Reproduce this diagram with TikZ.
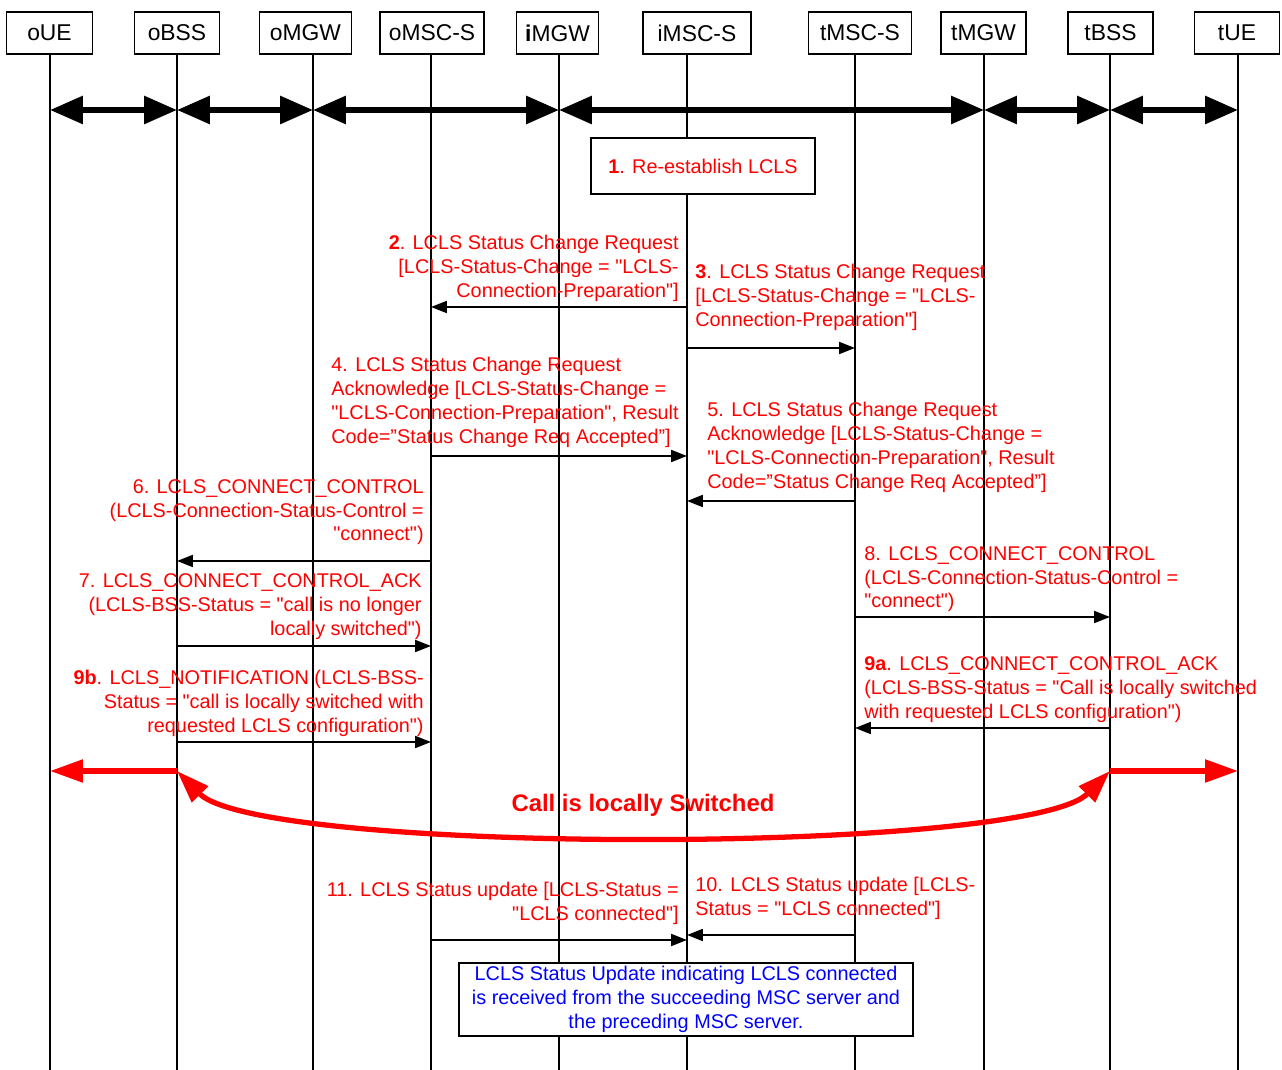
\documentclass[tikz,border=0pt]{standalone}
\usepackage{fontspec}
\setmainfont{Liberation Sans}[Ligatures=TeXOff]
\usetikzlibrary{arrows.meta}

\begin{document}
\begin{tikzpicture}[
    x=0.02cm, y=-0.02cm,
    every node/.style={font=\fontsize{11.3}{13.6}\selectfont, inner sep=0pt},
    entity/.style={draw, line width=0.8pt, minimum height=0.84cm, font=\fontsize{13}{15}\selectfont},
    life/.style={line width=0.8pt},
    link/.style={line width=3.4pt, {Triangle[length=18.7pt,width=15.3pt]}-{Triangle[length=18.7pt,width=15.3pt]}},
    msg/.style={line width=1pt, -{Triangle[length=9pt,width=6.8pt]}},
    lbl/.style={text=red, align=left, anchor=north west},
    rlbl/.style={text=red, align=right, anchor=north east},
    note/.style={draw, fill=white, line width=0.8pt, align=center},
    local/.style={red, line width=3pt, -{Triangle[length=18.7pt,width=12.5pt]}}
]
    \useasboundingbox (0,0) rectangle (1282,1070);

    \foreach \n/\t/\bx/\lx/\w in {oUE/oUE/49.5/50/86, oBSS/oBSS/177/177/85,
        oMGW/oMGW/305.5/313/92, oMSC/oMSC-S/432/431/104, iMGW/\textbf{i}MGW/557.5/559/82,
        iMSC/iMSC-S/697/687/108, tMSC/tMSC-S/860/855/103, tMGW/tMGW/983.5/984/85,
        tBSS/tBSS/1110.5/1110/85, tUE/tUE/1237/1238/85} {
        \node[entity, minimum width=\w*0.02cm] (\n) at (\bx,33) {\t};
        \coordinate (\n-l) at (\lx,1070);
        \draw[life] (\n.south -| \n-l) -- (\n-l);
    }

    \foreach \a/\b in {oUE/oBSS, oBSS/oMGW, oMGW/iMGW, iMGW/tMGW, tMGW/tBSS, tBSS/tUE}
        \draw[link] (\a-l |- 0,110) -- (\b-l |- 0,110);

    \node[note, text=red, minimum width=224*0.02cm, minimum height=56*0.02cm] (re) at (703,166) {\textbf{1}. Re-establish LCLS};

    \node[rlbl] (m2) at (679,235) {\textbf{2}. LCLS Status Change Request\\{}[LCLS-Status-Change = "LCLS-\\Connection-Preparation"]};
    \draw[msg] (iMSC-l |- 0,307) -- (oMSC-l |- 0,307);

    \node[lbl] (m3) at (695,264) {\textbf{3}. LCLS Status Change Request\\{}[LCLS-Status-Change = "LCLS-\\Connection-Preparation"]};
    \draw[msg] (iMSC-l |- 0,348) -- (tMSC-l |- 0,348);

    \node[lbl] (m4) at (331,357) {4. LCLS Status Change Request\\Acknowledge [LCLS-Status-Change =\\"LCLS-Connection-Preparation", Result\\Code=”Status Change Req Accepted”]};
    \draw[msg] (oMSC-l |- 0,456) -- (iMSC-l |- 0,456);

    \node[lbl] (m5) at (707,402) {5. LCLS Status Change Request\\Acknowledge [LCLS-Status-Change =\\"LCLS-Connection-Preparation", Result\\Code=”Status Change Req Accepted”]};
    \draw[msg] (tMSC-l |- 0,501) -- (iMSC-l |- 0,501);

    \node[rlbl] (m6) at (424,479) {6. LCLS\_CONNECT\_CONTROL\\(LCLS-Connection-Status-Control =\\"connect")};
    \draw[msg] (oMSC-l |- 0,561) -- (oBSS-l |- 0,561);

    \node[rlbl] (m7) at (422,573) {7. LCLS\_CONNECT\_CONTROL\_ACK\\(LCLS-BSS-Status = "call is no longer\\locally switched")};
    \draw[msg] (oBSS-l |- 0,646) -- (oMSC-l |- 0,646);

    \node[lbl] (m8) at (864,546) {8. LCLS\_CONNECT\_CONTROL\\(LCLS-Connection-Status-Control =\\"connect")};
    \draw[msg] (tMSC-l |- 0,617) -- (tBSS-l |- 0,617);

    \node[rlbl] (m9b) at (424,670) {\textbf{9b}. LCLS\_NOTIFICATION (LCLS-BSS-\\Status = "call is locally switched with\\requested LCLS configuration")};
    \draw[msg] (oBSS-l |- 0,742) -- (oMSC-l |- 0,742);

    \node[lbl] (m9a) at (864,656) {\textbf{9a}. LCLS\_CONNECT\_CONTROL\_ACK\\(LCLS-BSS-Status = "Call is locally switched\\with requested LCLS configuration")};
    \draw[msg] (tBSS-l |- 0,728) -- (tMSC-l |- 0,728);

    \draw[local] (oBSS-l |- 0,771) -- (oUE-l |- 0,771);
    \draw[local] (tBSS-l |- 0,771) -- (tUE-l |- 0,771);
    \draw[local, {Triangle[length=18.7pt,width=12.5pt]}-{Triangle[length=18.7pt,width=12.5pt]}]
        (oBSS-l |- 0,771) .. controls (260,855) and (1027,855) .. (tBSS-l |- 0,771);
    \node[text=red, font=\bfseries\fontsize{13.6}{16}\selectfont] (sw) at (643,805) {Call is locally Switched};

    \node[lbl] (m10) at (695,877) {10. LCLS Status update [LCLS-\\Status = "LCLS connected"]};
    \draw[msg] (tMSC-l |- 0,935) -- (iMSC-l |- 0,935);

    \node[rlbl] (m11) at (679,882) {11. LCLS Status update [LCLS-Status =\\"LCLS connected"]};
    \draw[msg] (oMSC-l |- 0,940) -- (iMSC-l |- 0,940);

    \node[note, text=blue, minimum width=454*0.02cm, minimum height=73*0.02cm] (upd) at (686,999.5) {LCLS Status Update indicating LCLS connected\\is received from the succeeding MSC server and\\the preceding MSC server.};
\end{tikzpicture}
\end{document}
